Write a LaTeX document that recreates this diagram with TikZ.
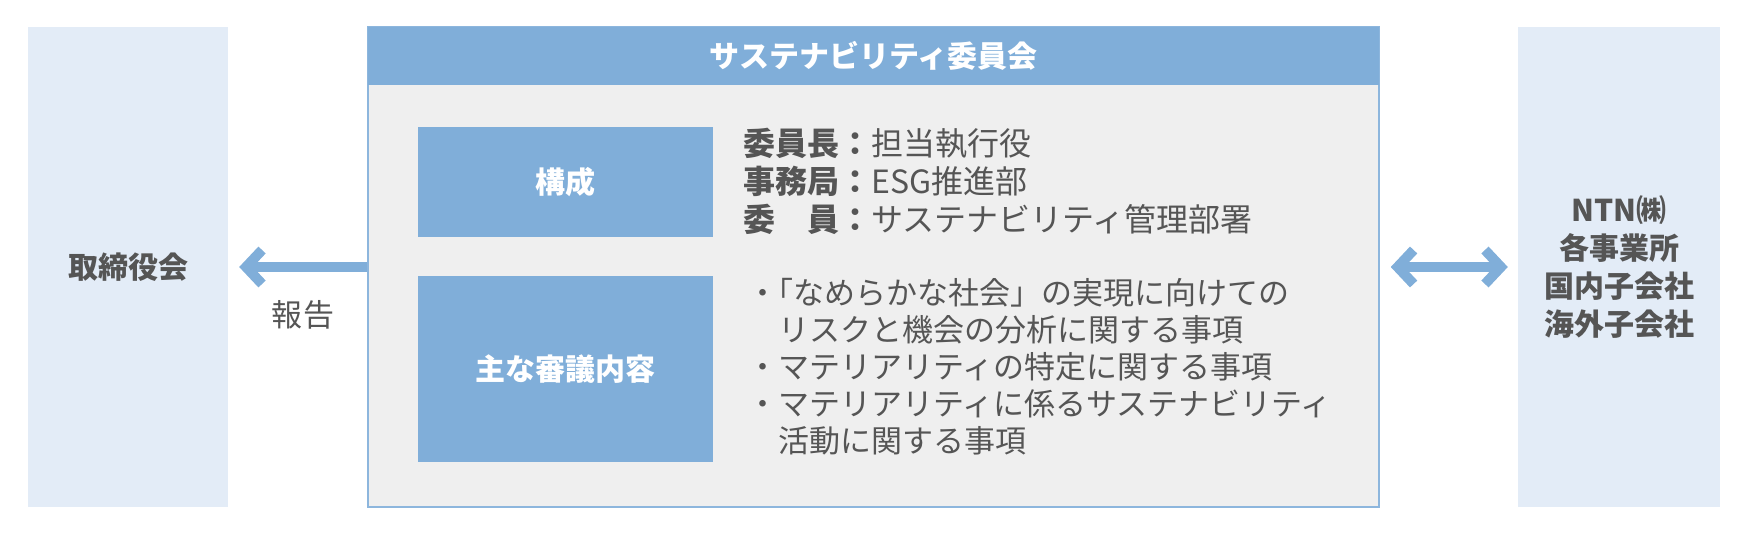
\documentclass[tikz,border=0pt]{standalone}
\usepackage{fontspec}
\setmainfont{Noto Sans CJK JP}
\usetikzlibrary{arrows.meta}
\definecolor{hdrblue}{HTML}{80AED9}
\definecolor{lightbox}{HTML}{E3ECF7}
\definecolor{bodygray}{HTML}{EFEFEF}
\definecolor{txt}{HTML}{555555}
\definecolor{frameblue}{HTML}{8DB6DD}
\begin{document}
\begin{tikzpicture}[x=1pt,y=-1pt,
  sidebox/.style={rectangle, fill=lightbox, draw=none, minimum height=480pt, inner sep=0pt,
    text=txt, font=\fontsize{30}{38}\selectfont\bfseries, align=center},
  bluebox/.style={rectangle, fill=hdrblue, draw=none, minimum width=295pt, inner sep=0pt,
    text=white, font=\fontsize{30}{34}\selectfont\bfseries},
  bodytext/.style={anchor=west, inner sep=0pt, text=txt, align=left},
  arrowline/.style={draw=hdrblue, line width=10pt},
  barb/.tip={Straight Barb[length=16pt, width=34pt, sharp]}
]
\useasboundingbox (0,0) rectangle (1748,535);
% side boxes
\node[sidebox, minimum width=200pt] (board) at (128,267) {取締役会};
\node[sidebox, minimum width=202pt] (sites) at (1619,267) {NTN㈱\\各事業所\\国内子会社\\海外子会社};
% main committee box
\node[rectangle, draw=frameblue, line width=1.5pt, fill=bodygray, minimum width=1011pt,
  minimum height=480pt, inner sep=0pt] (main) at (873.5,267) {};
\node[rectangle, fill=hdrblue, minimum width=1011pt, minimum height=58pt, inner sep=0pt,
  text=white, font=\fontsize{30}{34}\selectfont\bfseries] (title) at (873.5,56) {サステナビリティ委員会};
% inner boxes
\node[bluebox, minimum height=110pt] (comp) at (565.5,182) {構成};
\node[bluebox, minimum height=186pt] (topics) at (565.5,369) {主な審議内容};
% texts
\node[bodytext, font=\fontsize{32}{38}\selectfont] (members) at (743,181)
  {\textbf{委員長：}担当執行役\\\textbf{事務局：}ESG推進部\\\textbf{委　員：}サステナビリティ管理部署};
\node[bodytext, font=\fontsize{31}{37}\selectfont] (items) at (747,367)
  {・\kern-0.5em「なめらかな社会」の実現に向けての\\　リスクと機会の分析に関する事項\\・マテリアリティの特定に関する事項\\・マテリアリティに係るサステナビリティ\\　活動に関する事項};
% arrows
\draw[arrowline, -barb] (main.west) -- ([xshift=11pt]board.east)
  node[midway, below=28pt, text=txt, font=\fontsize{31}{34}\selectfont, inner sep=0pt] (report) {報\kern1pt 告};
\draw[arrowline, barb-barb] ([xshift=11pt]main.east) -- ([xshift=-10pt]sites.west);
\end{tikzpicture}
\end{document}
